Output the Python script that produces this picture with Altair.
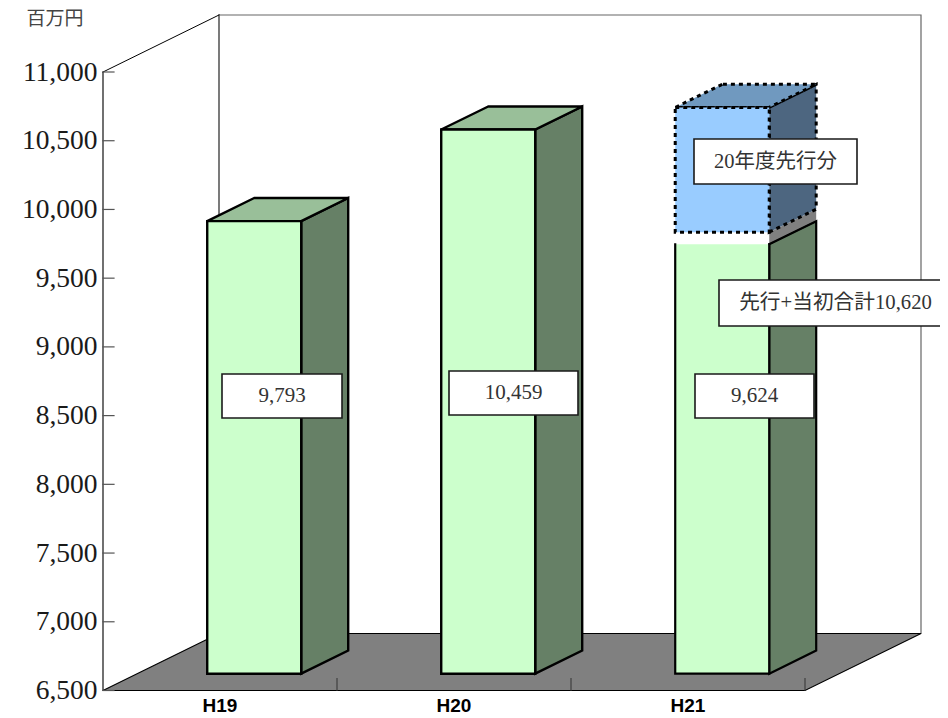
import altair as alt
import pandas as pd

# ---- data ----
categories = ["H19", "H20", "H21"]
initial_values = [9793, 10459, 9624]
advance_total = 10620          # top of the blue block on H21
advance_base = 9712            # bottom of the blue block on H21
y_ticks = [6500, 7000, 7500, 8000, 8500, 9000, 9500, 10000, 10500, 11000]
label_texts = ["9,793", "10,459", "9,624"]
advance_label = "20年度先行分"
total_label = "先行+当初合計10,620"
unit_label = "百万円"

# ---- projection / layout ----
Y_MIN, Y_MAX = 6500, 11000
K = 618.5 / 4500               # px per value unit
UNIT = 234                     # px per category
W, H = 837, 709
LEFT = 95
ORIGIN_X, ORIGIN_Y = 103, 690.5
DX = 116 / UNIT                # full floor depth, in category units
DY = 57 / K                    # full floor depth, in value units
HALF = 47 / UNIT               # half bar width
D0, D1 = 0.295, 0.70           # bar depth span

x_scale = alt.Scale(domain=[0, W / UNIT], nice=False, zero=False)
y_scale = alt.Scale(domain=[Y_MIN - (8 + H - ORIGIN_Y) / K, Y_MIN + (ORIGIN_Y - 8) / K], nice=False, zero=False)
y_axis = alt.Axis(values=y_ticks, title=None, domain=False, ticks=False, grid=False, format=",d",
                  labelFont="Liberation Serif", labelFontSize=27.5, labelColor="#1a1a1a", labelPadding=6,
                  labelFlush=False, labelOverlap=False)
X = alt.X("x:Q", scale=x_scale, axis=None)
Y = alt.Y("y:Q", scale=y_scale, axis=y_axis)
X2 = alt.X2("x2:Q")
Y2 = alt.Y2("y2:Q")


def ux(px):
    return (px - ORIGIN_X) / UNIT


def uy(py):
    return Y_MIN + (ORIGIN_Y - py) / K


def rect(x0, x1, y0, y1, **style):
    df = pd.DataFrame({"x": [x0], "x2": [x1], "y": [y0], "y2": [y1]})
    return alt.Chart(df).mark_rect(**style).encode(x=X, x2=X2, y=Y, y2=Y2)


def side(x0, x1, low0, low1, high0, high1, **style):
    df = pd.DataFrame({"x": [x0, x1], "y": [low0, low1], "y2": [high0, high1]})
    return alt.Chart(df).mark_area(**style).encode(x=X, y=Y, y2=Y2)


def flat(y0, y1, a0, a1, b0, b1, **style):
    df = pd.DataFrame({"y": [y0, y1], "x": [a0, a1], "x2": [b0, b1]})
    return alt.Chart(df).mark_area(orient="horizontal", **style).encode(y=Y, x=X, x2=X2)


def line(points, color="#000000", width=1.0, dash=None):
    df = pd.DataFrame({"x": [p[0] for p in points], "y": [p[1] for p in points], "o": range(len(points))})
    kw = {"strokeDash": dash} if dash else {}
    return alt.Chart(df).mark_line(color=color, strokeWidth=width, strokeCap="square", **kw).encode(
        x=X, y=Y, order=alt.Order("o:Q"))


def box(i, low, high, front, sidec, top, stroke="#000000", sw=2.4, dash=None, draw_top=True, outline=True):
    c = i + 0.5
    x0 = c - HALF + D0 * DX
    x1 = c + HALF + D0 * DX
    d = (D1 - D0) * DX
    ya, yb = D0 * DY, D1 * DY
    st = {"stroke": stroke, "strokeWidth": sw, "strokeJoin": "miter"}
    if dash:
        st["strokeDash"] = dash
    out = []
    out.append(side(x1, x1 + d, low + ya, low + yb, high + ya, high + yb, color=sidec, **st))
    if draw_top:
        out.append(flat(high + ya, high + yb, x0, x0 + d, x1, x1 + d, color=top, **st))
    if outline:
        out.append(rect(x0, x1, low + ya, high + ya, color=front, **st))
    else:
        out.append(rect(x0, x1, low + ya, high + ya, color=front))
        out.append(line([(x0, high + ya), (x0, low + ya), (x1, low + ya), (x1, high + ya)], width=sw))
    return out


def textbox(x0, x1, y0, y1, txt, cx=None, size=21):
    cx = (x0 + x1) / 2 if cx is None else cx
    bx = rect(ux(x0), ux(x1), uy(y1), uy(y0), color="#ffffff", stroke="#1a1a1a", strokeWidth=1.6)
    t = alt.Chart(pd.DataFrame({"x": [ux(cx)], "y": [uy((y0 + y1) / 2)], "t": [txt]})).mark_text(
        font="Liberation Serif, 'Noto Sans CJK JP'", fontSize=size, color="#333333",
        align="center", baseline="middle").encode(x=X, y=Y, text="t:N")
    return [bx, t]


layers = []

# back wall
FRONT_W = len(categories)
layers.append(line([(DX, Y_MIN + DY), (DX, Y_MAX + DY)], color="#222222", width=1.2))
layers.append(line([(DX, Y_MAX + DY), (DX + FRONT_W, Y_MAX + DY), (DX + FRONT_W, Y_MIN + DY)], color="#666666", width=1.2))
layers.append(line([(0, Y_MAX), (DX, Y_MAX + DY)], color="#000000", width=1))

# floor
layers.append(flat(Y_MIN, Y_MIN + DY, 0, DX, FRONT_W, FRONT_W + DX, color="#808080", stroke="#000000", strokeWidth=1.2))

# value axis line and inward ticks
layers.append(line([(0, Y_MIN), (0, Y_MAX)], color="#111111", width=1.2))
for v in y_ticks:
    layers.append(line([(0, v), (11 / UNIT, v)], color="#555555", width=1.2))
# category ticks on the floor edge
for i in range(1, FRONT_W + 1):
    layers.append(line([(i, Y_MIN), (i, Y_MIN + 12 / K)], color="#333333", width=1))

# bars
layers += box(0, Y_MIN, initial_values[0], "#CCFFCC", "#668066", "#99BF99")
layers += box(1, Y_MIN, initial_values[1], "#CCFFCC", "#668066", "#99BF99")

# H21: gray band between the two blocks
c3 = 2.5
xr = c3 + HALF + D0 * DX
dd = (D1 - D0) * DX
layers.append(side(xr, xr + dd,
                   initial_values[2] + D0 * DY, initial_values[2] + D1 * DY,
                   advance_base + D0 * DY, advance_base + D1 * DY, color="#808080"))
layers += box(2, Y_MIN, initial_values[2], "#CCFFCC", "#668066", "#99BF99", sw=2.2, draw_top=False, outline=False)
layers.append(line([(xr, initial_values[2] + D0 * DY), (xr + dd, initial_values[2] + D1 * DY)], width=1.2))
layers += box(2, advance_base, advance_total, "#99CCFF", "#4D6680", "#7099BF", sw=3, dash=[4, 4])

# category labels
cat_df = pd.DataFrame({"x": [i + 0.5 for i in range(FRONT_W)], "y": [uy(706)] * FRONT_W, "t": categories})
layers.append(alt.Chart(cat_df).mark_text(font="Liberation Sans", fontWeight="bold", fontSize=19, color="#000000",
                                          align="center", baseline="middle").encode(x=X, y=Y, text="t:N"))

# value labels
layers += textbox(222, 342, 374, 418, label_texts[0])
layers += textbox(449, 578, 371, 415, label_texts[1])
layers += textbox(695, 814, 374, 418, label_texts[2])
layers += textbox(694, 857, 139, 184, advance_label, size=20.5)
layers += textbox(719, 960, 280, 326, total_label, cx=835.5, size=20.7)

# unit label
unit_df = pd.DataFrame({"x": [ux(55)], "y": [uy(19)], "t": [unit_label]})
layers.append(alt.Chart(unit_df).mark_text(font="Noto Sans CJK JP", fontSize=19, color="#444444",
                                           align="center", baseline="middle", clip=False).encode(
    x=alt.X("x:Q", scale=x_scale, axis=None), y=Y, text="t:N"))

chart = alt.layer(*layers).properties(
    width=W, height=H,
    autosize=alt.AutoSizeParams(type="none"),
    padding={"left": LEFT, "top": 0, "right": 0, "bottom": 0},
).configure_view(strokeWidth=0)

chart.save("out.html", embed_options={"renderer": "svg", "actions": False})
